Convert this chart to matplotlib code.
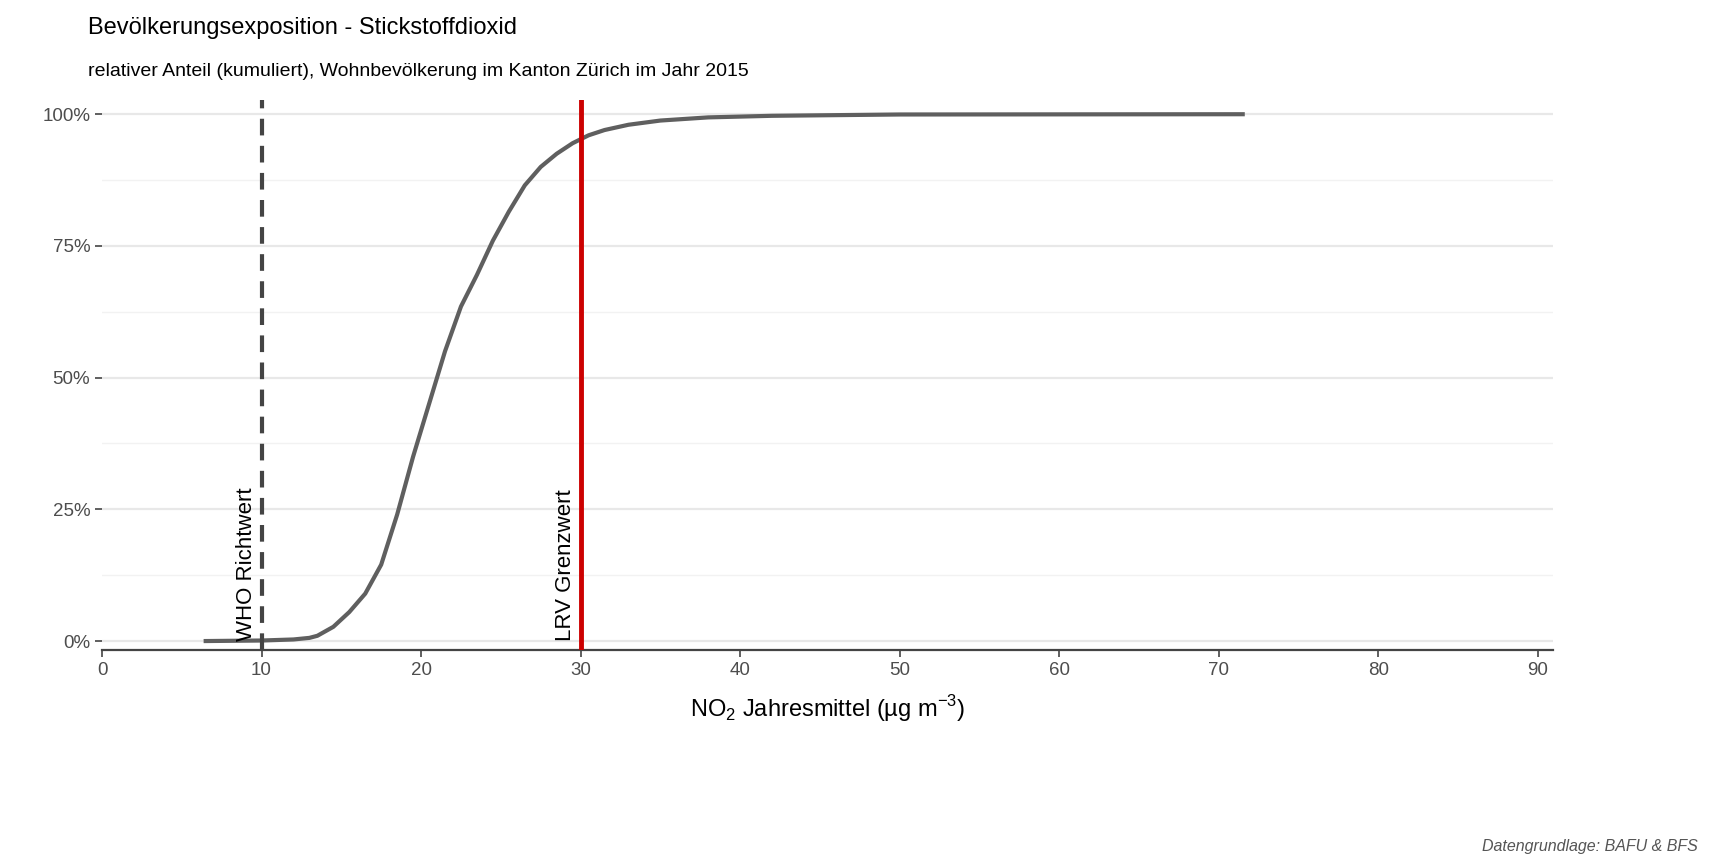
import matplotlib
matplotlib.use("Agg")
import matplotlib.pyplot as plt
plt.rcParams['font.family'] = ['Liberation Sans', 'DejaVu Sans']
plt.rcParams['mathtext.fontset'] = 'custom'
plt.rcParams['mathtext.rm'] = 'Liberation Sans'

no2 = [6.5, 10, 12, 13, 13.5, 14.5, 15.5, 16.5, 17.5, 18.5, 19.5, 20.5, 21.5, 22.5, 23.5, 24.5,
       25.5, 26.5, 27.5, 28.5, 29.5, 30.5, 31.5, 33, 35, 38, 42, 50, 71.5]
share = [0, 0.1, 0.3, 0.6, 1.0, 2.7, 5.5, 9, 14.5, 24, 35, 45, 55, 63.5, 69.5, 76,
         81.5, 86.5, 90, 92.5, 94.5, 96, 97, 98, 98.8, 99.4, 99.7, 99.95, 100]
who_value = 10
lrv_value = 30
xticks = list(range(0, 100, 10))
yticks = [0, 25, 50, 75, 100]

fig = plt.figure(figsize=(17.28, 8.64), dpi=100)
ax = fig.add_axes([102/1728, 1-650/864, (1553-102)/1728, 550/864])
ax.set_xlim(0.25, 90.95)
ax.set_ylim(-1.7, 102.7)
for s in ["top", "right", "left"]:
    ax.spines[s].set_visible(False)
ax.spines["bottom"].set_color("#444444")
ax.spines["bottom"].set_linewidth(1.6)
for y in yticks:
    ax.axhline(y, color="#e8e8e8", lw=1.6, zorder=0)
for y in [12.5, 37.5, 62.5, 87.5]:
    ax.axhline(y, color="#f2f2f2", lw=1.0, zorder=0)
ax.plot(no2, share, color="#5f5f5f", lw=3, zorder=2)
ax.axvline(who_value, color="#444444", lw=3, ls=(0, (4, 2.5)), zorder=3)
ax.axvline(lrv_value, color="#cc0000", lw=3.5, zorder=3)
ax.text(who_value - 0.3, 0, "WHO Richtwert", rotation=90, ha="right", va="bottom", fontsize=16)
ax.text(lrv_value - 0.3, 0, "LRV Grenzwert", rotation=90, ha="right", va="bottom", fontsize=16)
ax.set_xticks(xticks)
ax.set_xticklabels([str(x) for x in xticks])
ax.set_yticks(yticks)
ax.set_yticklabels([f"{y}%" for y in yticks])
ax.tick_params(axis="x", colors="#444444", labelsize=13.5, length=5, width=1.2, labelcolor="#4d4d4d")
ax.tick_params(axis="y", length=5, width=1.2, colors="#444444", labelsize=13.5, labelcolor="#4d4d4d")
ax.set_xlabel(r"NO$_2$ Jahresmittel (µg m$^{-3}$)", fontsize=17, labelpad=10)
fig.text(88/1728, 1-28/864, "Bevölkerungsexposition - Stickstoffdioxid", fontsize=17, va="center")
fig.text(88/1728, 1-72/864, "relativer Anteil (kumuliert), Wohnbevölkerung im Kanton Zürich im Jahr 2015",
         fontsize=14, va="center")
fig.text(1698/1728, 1-846/864, "Datengrundlage: BAFU & BFS", fontsize=11.5, style="italic",
         color="#555555", ha="right", va="center")
fig.savefig("out.png", dpi=100)
